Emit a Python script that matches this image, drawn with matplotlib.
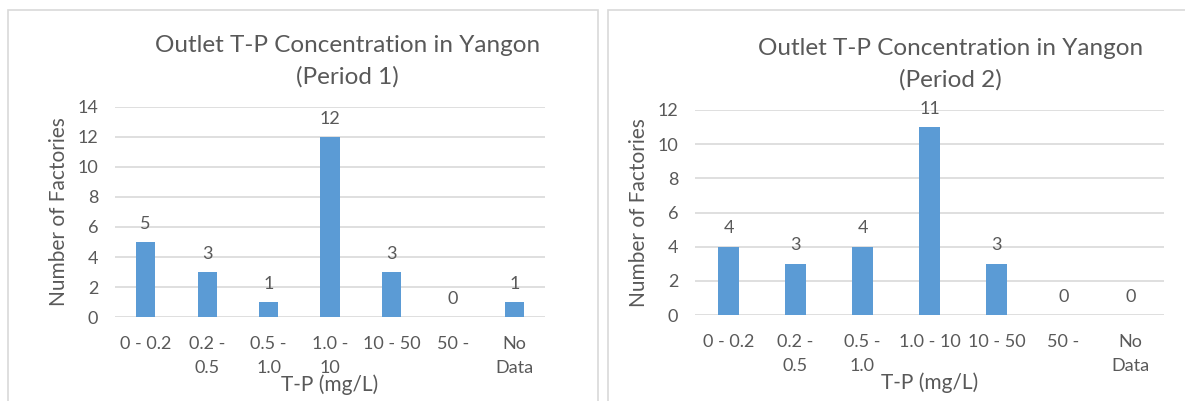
import matplotlib.pyplot as plt
from matplotlib.patches import Rectangle

plt.rcParams['font.family'] = ['Lato', 'DejaVu Sans']

# datos
categories = ["0 - 0.2", "0.2 -\n0.5", "0.5 -\n1.0", "1.0 -\n10", "10 - 50", "50 -", "No\nData"]
categories2 = ["0 - 0.2", "0.2 -\n0.5", "0.5 -\n1.0", "1.0 - 10", "10 - 50", "50 -", "No\nData"]
period1 = [5, 3, 1, 12, 3, 0, 1]
period2 = [4, 3, 4, 11, 3, 0, 0]

bar_color = '#5B9BD5'
grid_color = '#D9D9D9'
text_color = '#595959'

W, H = 1185, 401
fig = plt.figure(figsize=(W / 100, H / 100), dpi=100)


def px_axes(x0, x1, ytop, ybot):
    return fig.add_axes([x0 / W, 1 - ybot / H, (x1 - x0) / W, (ybot - ytop) / H])


def draw(ax, labels, values, ymax, title, title_x):
    x = range(len(values))
    ax.bar(x, values, width=0.31, color=bar_color, zorder=3)
    for i, v in zip(x, values):
        ax.annotate(str(v), (i, v), xytext=(0, 7.5), textcoords='offset points',
                    ha='center', va='bottom', fontsize=13, color=text_color)
    ax.set_xlim(-0.5, len(values) - 0.5)
    ax.set_ylim(0, ymax)
    ax.set_yticks(range(0, ymax + 1, 2))
    ax.set_xticks(list(x))
    ax.set_xticklabels(labels, fontsize=13, color=text_color, linespacing=1.55, va='top')
    ax.tick_params(axis='y', labelsize=13, labelcolor=text_color, length=0, pad=12)
    ax.tick_params(axis='x', length=0, pad=14)
    ax.grid(axis='y', color=grid_color, linewidth=1.2, zorder=0)
    for s in ax.spines.values():
        s.set_visible(False)
    ax.set_xlabel("T-P (mg/L)", fontsize=15, color=text_color, labelpad=-1)
    ax.set_ylabel("Number of Factories", fontsize=15, color=text_color, labelpad=6)
    ax.set_title(title, fontsize=17.5, color=text_color, linespacing=1.55, pad=17, x=title_x)


# bordes de los paneles
fig.patches.append(Rectangle((8 / W, -0.05), 590 / W, 1.05 - 10 / H, transform=fig.transFigure,
                             fill=False, edgecolor=grid_color, linewidth=1.2))
fig.patches.append(Rectangle((608 / W, -0.05), 590 / W, 1.05 - 10 / H, transform=fig.transFigure,
                             fill=False, edgecolor=grid_color, linewidth=1.2))

ax1 = px_axes(115, 545, 107, 317)
draw(ax1, categories, period1, 14, "Outlet T-P Concentration in Yangon\n(Period 1)", 0.54)

ax2 = px_axes(695, 1164, 110, 315)
draw(ax2, categories2, period2, 12, "Outlet T-P Concentration in Yangon\n(Period 2)", 0.544)

plt.savefig('out.png', dpi=100)
